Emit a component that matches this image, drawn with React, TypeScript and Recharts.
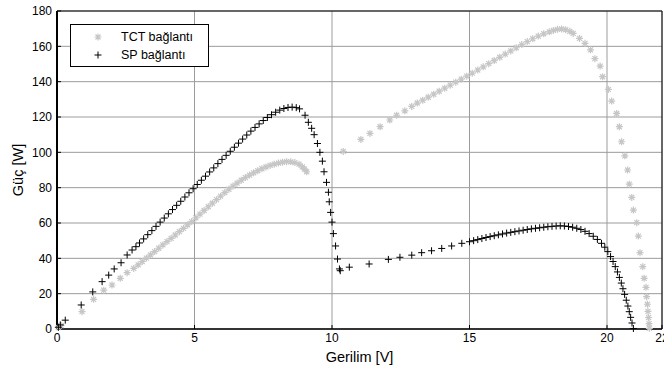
import {
  ScatterChart,
  Scatter,
  XAxis,
  YAxis,
  CartesianGrid,
  Legend,
} from "recharts";

// TCT bağlantı: gerilim [V] / güç [W]
const tctVoltage = [
  0.05, 0.15, 0.91, 1.33, 1.7, 2.0, 2.3, 2.55, 2.79,
  2.95, 3.1, 3.25, 3.4, 3.55, 3.7, 3.85, 4.0, 4.15, 4.3, 4.45, 4.6, 4.75, 4.9, 5.05, 5.2, 5.35, 5.5, 5.65, 5.8,
  5.95, 6.1, 6.25, 6.4, 6.55, 6.7, 6.85, 7.0, 7.15, 7.3, 7.45, 7.6, 7.75, 7.9, 8.05, 8.2, 8.35, 8.5, 8.65, 8.8,
  8.92, 9.0, 9.08,
  10.41, 11.05, 11.38, 11.75, 12.1, 12.35, 12.65, 12.9, 13.1,
  13.3, 13.5, 13.7, 13.9, 14.1, 14.3, 14.5, 14.7, 14.9, 15.1, 15.3, 15.5, 15.7, 15.9, 16.1, 16.3, 16.5, 16.7,
  16.9, 17.1, 17.3, 17.5, 17.7, 17.9,
  18.05, 18.2, 18.35, 18.5, 18.65,
  18.77, 19.0, 19.2, 19.4, 19.56, 19.75, 19.84, 20.05, 20.17, 20.35,
  20.45, 20.53, 20.65, 20.75, 20.81, 20.9, 20.96, 21.08, 21.14, 21.2,
  21.3, 21.35, 21.42, 21.44, 21.47, 21.49, 21.51, 21.53, 21.54,
];
const tctPower = [
  0.8, 2, 9.8, 16.8, 22, 24.9, 28.7, 31.9, 34.3,
  36.3, 38.2, 40.1, 42.0, 43.8, 45.7, 47.6, 49.5, 51.3, 53.2, 55.1, 57.0, 58.9, 60.8, 62.9, 65.0, 67.1, 69.2, 71.2, 73.2,
  75.2, 77.2, 79.1, 80.9, 82.6, 84.2, 85.7, 87.1, 88.4, 89.6, 90.7, 91.7, 92.6, 93.3, 93.9, 94.4, 94.7, 94.6, 94.2, 93.3,
  91.8, 90.5, 89,
  100.5, 107.3, 110.7, 114.5, 118.3, 121, 123.5, 126, 127.9,
  129.5, 131.2, 132.9, 134.6, 136.3, 138.0, 139.7, 141.4, 143.1, 144.8, 146.6, 148.4, 150.2, 152.0, 153.8, 155.6, 157.4, 159.2,
  161.0, 162.7, 164.3, 165.8, 167.1, 168.2,
  169.0, 169.6, 169.8, 169.4, 168.5,
  167.3, 164.5, 161.7, 158, 153, 148.8, 142.8, 135.6, 129, 122,
  114.5, 106, 98, 90, 82, 74.5, 67.3, 60.2, 52.6, 43.2,
  35.3, 28.7, 23.6, 18.3, 14, 10, 6.5, 3, 0.4,
];

// SP bağlantı: gerilim [V] / güç [W]
const spVoltage = [
  0.05, 0.12, 0.3, 0.88, 1.3, 1.64, 1.88, 2.08, 2.33, 2.55, 2.73, 2.87,
  3.0, 3.15, 3.3, 3.45, 3.6, 3.75, 3.9, 4.05, 4.2, 4.35, 4.5, 4.65, 4.8, 4.95, 5.1, 5.25, 5.4, 5.55, 5.7,
  5.85, 6.0, 6.15, 6.3, 6.45, 6.6, 6.75, 6.9, 7.05, 7.2, 7.35, 7.5, 7.65, 7.8, 7.95, 8.1, 8.25, 8.4, 8.55,
  8.7, 8.82,
  9.02, 9.14, 9.26, 9.35, 9.47, 9.56, 9.65, 9.71, 9.8, 9.87, 9.9, 9.95, 10.0, 10.05, 10.13, 10.2, 10.27, 10.3,
  10.63, 11.35, 12.05, 12.47, 12.9, 13.26, 13.62, 13.99, 14.35, 14.72,
  15.0, 15.15, 15.3, 15.45, 15.6, 15.75, 15.9, 16.05, 16.2, 16.35, 16.5, 16.65, 16.8, 16.95, 17.1, 17.25, 17.4,
  17.55, 17.7, 17.85, 18.0, 18.15, 18.3, 18.45, 18.6, 18.75, 18.9, 19.05, 19.2, 19.35, 19.5, 19.65, 19.8,
  19.92, 20.03, 20.13, 20.22, 20.3, 20.38, 20.45, 20.52, 20.58, 20.64, 20.7, 20.76, 20.81, 20.86, 20.91, 20.96,
];
const spPower = [
  1, 2.3, 5, 13.6, 21, 26.8, 30.5, 34, 37.5, 41.9, 44.7, 46.6,
  48.7, 51.0, 53.4, 55.7, 58.1, 60.5, 62.8, 65.2, 67.6, 70.0, 72.3, 74.7, 77.1, 79.4, 81.8, 84.2, 86.5, 88.9, 91.2,
  93.6, 96.0, 98.3, 100.6, 102.9, 105.2, 107.5, 109.8, 112.0, 114.1, 116.1, 118.0, 119.7, 121.3, 122.7, 123.9, 124.8, 125.4, 125.6,
  125.3, 124.6,
  121, 117, 113.6, 110, 105, 100, 95, 89, 83, 77.4, 72, 66, 60.5, 54, 47, 39.6, 34, 33,
  35, 36.8, 39.4, 40.6, 41.8, 43.2, 44.3, 45.6, 47, 48.5,
  49.4, 50.0, 50.6, 51.2, 51.8, 52.3, 52.8, 53.3, 53.8, 54.3, 54.7, 55.1, 55.5, 55.9, 56.3, 56.7, 57.0,
  57.3, 57.6, 57.9, 58.1, 58.3, 58.4, 58.3, 58.0, 57.6, 57.0, 56.3, 55.3, 54.0, 52.5, 50.7, 48.5,
  46.3, 43.8, 41.0, 38.2, 35.3, 32.3, 29.2, 26, 22.8, 19.6, 16.3, 13, 9.8, 6.6, 3.4, 0.3,
];

const seriesNames = ["TCT bağlantı", "SP bağlantı"];
const xTicks = [0, 5, 10, 15, 20, 22];
const yTicks = [0, 20, 40, 60, 80, 100, 120, 140, 160, 180];

const tctData = tctVoltage.map((v, i) => ({ x: v, y: tctPower[i] }));
const spData = spVoltage.map((v, i) => ({ x: v, y: spPower[i] }));

const FONT = "'Liberation Sans', Arial, sans-serif";
const TCT_COLOR = "#c6c6c6";
const SP_COLOR = "#000000";

function Asterisk({ cx, cy, color }: any) {
  if (cx == null || cy == null) return null;
  const r = 3.5;
  const d = 2.5;
  return (
    <path
      d={`M${cx - r},${cy}H${cx + r}M${cx},${cy - r}V${cy + r}M${cx - d},${cy - d}L${cx + d},${cy + d}M${cx - d},${cy + d}L${cx + d},${cy - d}`}
      stroke={color ?? TCT_COLOR}
      strokeWidth={1.2}
      fill="none"
    />
  );
}

function Plus({ cx, cy, color }: any) {
  if (cx == null || cy == null) return null;
  const r = 3.5;
  return (
    <path
      d={`M${cx - r},${cy}H${cx + r}M${cx},${cy - r}V${cy + r}`}
      stroke={color ?? SP_COLOR}
      strokeWidth={1}
      fill="none"
    />
  );
}

function LegendBox({ payload }: any) {
  const items = [...(payload ?? [])].sort(
    (a: any, b: any) => seriesNames.indexOf(a.value) - seriesNames.indexOf(b.value)
  );
  return (
    <div
      style={{
        width: 137,
        height: 38,
        border: "1px solid #000",
        background: "#fff",
        fontFamily: FONT,
        fontSize: 12.5,
        color: "#000",
        paddingTop: 3,
        boxSizing: "content-box",
        lineHeight: "18px",
      }}
    >
      {items.map((p: any) => (
        <div key={p.value} style={{ display: "flex", alignItems: "center", height: 18 }}>
          <svg width={50} height={18}>
            {p.value === seriesNames[0] ? (
              <Asterisk cx={27} cy={9} color={TCT_COLOR} />
            ) : (
              <Plus cx={27} cy={9} color={SP_COLOR} />
            )}
          </svg>
          <span>{p.value}</span>
        </div>
      ))}
    </div>
  );
}

function YLabel({ viewBox }: any) {
  const cx = 18;
  const cy = viewBox.y + viewBox.height / 2;
  return (
    <text
      x={cx}
      y={cy}
      transform={`rotate(-90, ${cx}, ${cy})`}
      textAnchor="middle"
      dominantBaseline="central"
      fontFamily={FONT}
      fontSize={14.5}
      fill="#000"
    >
      Güç [W]
    </text>
  );
}

function XLabel({ viewBox }: any) {
  return (
    <text
      x={viewBox.x + viewBox.width / 2}
      y={362}
      textAnchor="middle"
      fontFamily={FONT}
      fontSize={14.5}
      fill="#000"
    >
      Gerilim [V]
    </text>
  );
}

export default function App() {
  return (
    <div style={{ position: "absolute", left: 0, top: 0, background: "#fff" }}>
      <ScatterChart
        width={664}
        height={371}
        margin={{ top: 10, right: 1, bottom: 0, left: 0 }}
        style={{ fontFamily: FONT }}
      >
        <CartesianGrid stroke="#9c9c9c" strokeWidth={1} />
        <XAxis
          type="number"
          dataKey="x"
          domain={[0, 22]}
          ticks={xTicks}
          interval={0}
          height={42}
          tickSize={-4}
          tickMargin={8}
          tickLine={{ stroke: "#000" }}
          axisLine={{ stroke: "#000", strokeWidth: 1.5 }}
          tick={{ fill: "#000", fontSize: 12, fontFamily: FONT }}
          label={<XLabel />}
        />
        <YAxis
          type="number"
          dataKey="y"
          domain={[0, 180]}
          ticks={yTicks}
          interval={0}
          width={57}
          tickSize={-4}
          tickMargin={9}
          tickLine={{ stroke: "#000" }}
          axisLine={{ stroke: "#000", strokeWidth: 2 }}
          tick={{ fill: "#000", fontSize: 12, fontFamily: FONT }}
          label={<YLabel />}
        />
        <XAxis
          xAxisId="top"
          orientation="top"
          type="number"
          domain={[0, 22]}
          ticks={xTicks}
          interval={0}
          height={1}
          tickSize={-4}
          tick={false}
          tickLine={{ stroke: "#000" }}
          axisLine={{ stroke: "#000" }}
        />
        <YAxis
          yAxisId="right"
          orientation="right"
          type="number"
          domain={[0, 180]}
          ticks={yTicks}
          interval={0}
          width={1}
          tickSize={-4}
          tick={false}
          tickLine={{ stroke: "#000" }}
          axisLine={{ stroke: "#000" }}
        />
        <Legend
          layout="vertical"
          verticalAlign="middle"
          align="center"
          content={<LegendBox />}
          wrapperStyle={{ position: "absolute", left: 70, top: 24, width: 139 }}
        />
        <Scatter
          name={seriesNames[0]}
          data={tctData}
          fill={TCT_COLOR}
          shape={(p: any) => <Asterisk cx={p.cx} cy={p.cy} color={TCT_COLOR} />}
          isAnimationActive={false}
        />
        <Scatter
          name={seriesNames[1]}
          data={spData}
          fill={SP_COLOR}
          shape={(p: any) => <Plus cx={p.cx} cy={p.cy} color={SP_COLOR} />}
          isAnimationActive={false}
        />
      </ScatterChart>
    </div>
  );
}
